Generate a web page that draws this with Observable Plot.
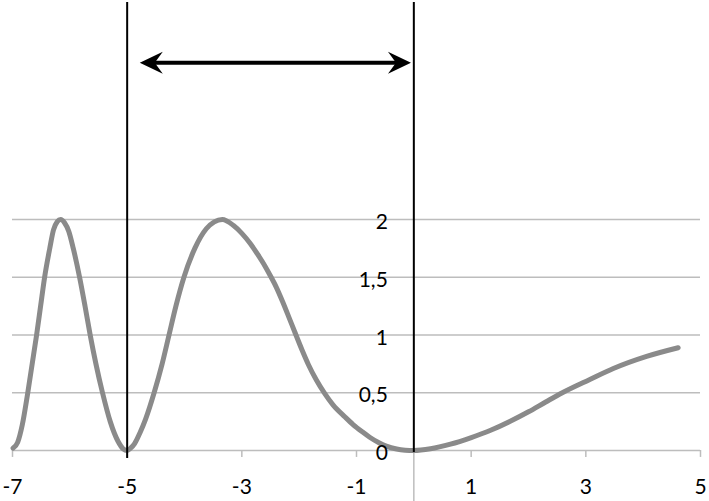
<!DOCTYPE html>
<html>
<head>
<meta charset="utf-8">
<script src="https://cdn.jsdelivr.net/npm/d3@7"></script>
<script src="https://cdn.jsdelivr.net/npm/@observablehq/plot@0.6"></script>
<style>
  html, body { margin: 0; padding: 0; background: #fff; }
  #chart svg { display: block; }
</style>
</head>
<body>
<div id="chart"></div>
<script>
// ---- data ----
const curveX = [-6.99,-6.91,-6.83,-6.74,-6.66,-6.58,-6.51,-6.44,-6.35,-6.285,-6.22,-6.16,-6.09,-6.02,-5.94,-5.83,-5.735,-5.645,-5.545,-5.43,-5.295,-5.16,-5.07,-5.0,-4.94,-4.87,-4.78,-4.68,-4.53,-4.39,-4.27,-4.15,-4.01,-3.82,-3.62,-3.48,-3.34,-3.15,-3.0,-2.85,-2.72,-2.6,-2.51,-2.4,-2.29,-2.18,-2.08,-1.95,-1.84,-1.7,-1.55,-1.41,-1.2,-1.06,-0.9,-0.77,-0.6,-0.48,-0.3,-0.15,0,0.29,0.64,0.99,1.34,1.69,2.0,2.3,2.59,3.07,3.48,4.06,4.61];
const curveY = [0.02,0.07,0.22,0.48,0.74,1.0,1.25,1.5,1.75,1.91,1.98,2.0,1.97,1.9,1.75,1.5,1.25,1.0,0.75,0.5,0.25,0.08,0.015,0,0.02,0.06,0.15,0.27,0.5,0.75,1.0,1.25,1.5,1.75,1.92,1.98,2.0,1.95,1.88,1.79,1.695,1.6,1.52,1.415,1.29,1.155,1.03,0.87,0.745,0.61,0.49,0.395,0.29,0.225,0.162,0.115,0.065,0.038,0.013,0.003,0,0.015,0.055,0.11,0.175,0.255,0.335,0.42,0.5,0.615,0.71,0.815,0.89];

const xTicks = [-7, -5, -3, -1, 1, 3, 5];
const xTickLabels = ["-7", "-5", "-3", "-1", "1", "3", "5"];
const yTicks = [0, 0.5, 1, 1.5, 2];
const yTickLabels = ["0", "0,5", "1", "1,5", "2"];

const markerX = [-5, 0];          // vertical black lines
const markerBottom = [-0.07, -0.017];
const arrowStart = -4.78;
const arrowEnd = -0.05;
const arrowY = 3.357;

const xDomain = [-7, 5];
const yDomain = [0, 3.879];

// ---- build ----
const curve = curveX.map((x, i) => ({x, y: curveY[i]}));
const markers = markerX.map((x, i) => ({x, y1: markerBottom[i], y2: yDomain[1]}));

const stealthRight = {
  draw(ctx) {
    ctx.moveTo(0, 0);
    ctx.lineTo(-23, -11);
    ctx.lineTo(-15, 0);
    ctx.lineTo(-23, 11);
    ctx.closePath();
  }
};
const stealthLeft = {
  draw(ctx) {
    ctx.moveTo(0, 0);
    ctx.lineTo(23, -11);
    ctx.lineTo(15, 0);
    ctx.lineTo(23, 11);
    ctx.closePath();
  }
};

const font = "Lato, 'Open Sans', sans-serif";

const chart = Plot.plot({
  width: 709,
  height: 501,
  marginLeft: 12,
  marginRight: 9,
  marginTop: 2,
  marginBottom: 51,
  x: {domain: xDomain, axis: null},
  y: {domain: yDomain, axis: null},
  style: {fontFamily: font, background: "#fff"},
  marks: [
    Plot.ruleY(yTicks, {x1: xDomain[0], x2: xDomain[1], stroke: "#bdbdbd", strokeWidth: 1.5}),
    Plot.ruleX(xTicks, {y1: 0, y2: -0.06, stroke: "#bdbdbd", strokeWidth: 1.5}),
    Plot.ruleX([0], {y1: 0, y2: -0.45, stroke: "#bdbdbd", strokeWidth: 1.5}),
    Plot.line(curve, {x: "x", y: "y", curve: "monotone-x", stroke: "#8a8a8a", strokeWidth: 5, strokeLinecap: "round", strokeLinejoin: "round"}),
    Plot.ruleX(markers, {x: "x", y1: "y1", y2: "y2", stroke: "#000", strokeWidth: 2}),
    Plot.ruleY([arrowY], {x1: arrowStart, x2: arrowEnd, insetLeft: 12, insetRight: 12, stroke: "#000", strokeWidth: 4}),
    Plot.dot([arrowEnd], {x: d => d, y: () => arrowY, symbol: stealthRight, fill: "#000", stroke: "none"}),
    Plot.dot([arrowStart], {x: d => d, y: () => arrowY, symbol: stealthLeft, fill: "#000", stroke: "none"}),
    Plot.text(xTicks, {x: d => d, y: () => 0, text: (d, i) => xTickLabels[i], dy: 37, fontSize: 21, fill: "#000", textAnchor: "middle"}),
    Plot.text(yTicks, {x: () => 0, y: d => d, text: (d, i) => yTickLabels[i], dx: -26, dy: 3, fontSize: 21, fill: "#000", textAnchor: "end"})
  ]
});

document.getElementById("chart").appendChild(chart);
</script>
</body>
</html>
